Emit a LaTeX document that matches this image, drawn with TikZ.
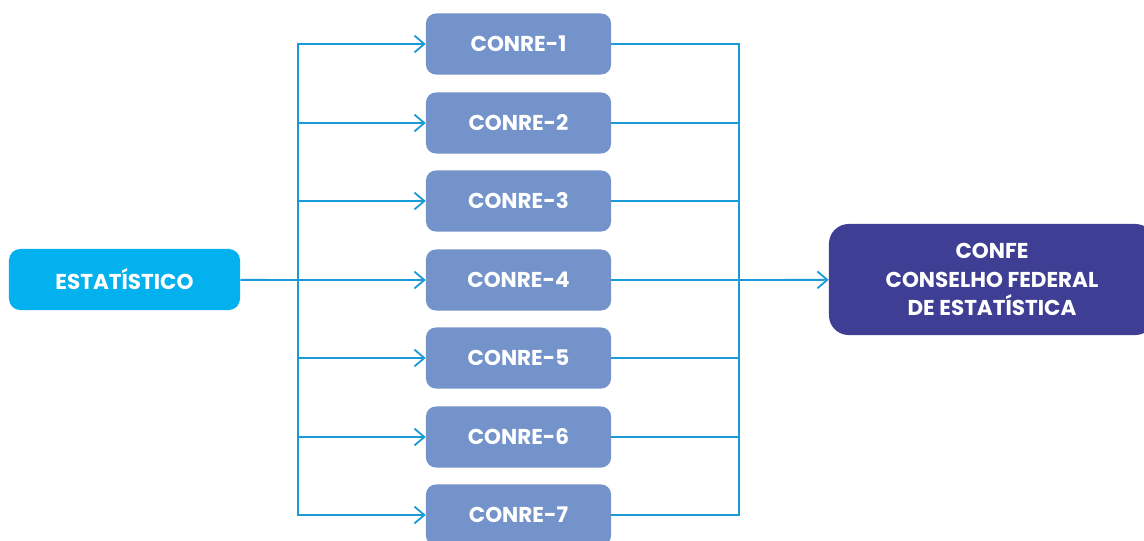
\documentclass[tikz,border=0pt]{standalone}
\usepackage{fontspec}
\setmainfont{Poppins}
\usepackage{tikz}
\usetikzlibrary{arrows.meta}

\definecolor{linkblue}{HTML}{1A9BD8}
\definecolor{estblue}{HTML}{03B1EF}
\definecolor{conreblue}{HTML}{7393CA}
\definecolor{confeblue}{HTML}{3E3F94}

\begin{document}
\begin{tikzpicture}[x=0.025cm,y=-0.025cm,
  every node/.style={text=white,font=\fontsize{15.3}{20}\selectfont\bfseries},
  estbox/.style={shape=rectangle,rounded corners=8pt,fill=estblue,minimum width=5.775cm,minimum height=1.525cm},
  conrebox/.style={shape=rectangle,rounded corners=7pt,fill=conreblue,minimum width=4.625cm,minimum height=1.525cm},
  confebox/.style={shape=rectangle,rounded corners=14pt,fill=confeblue,minimum width=8.15cm,minimum height=2.775cm,align=center},
  link/.style={draw=linkblue,line width=1.3pt},
  tip/.style={-{Straight Barb[length=7pt,width=12pt,line width=1.3pt]}}]
%[frame]
\clip (0,0) rectangle (1144,540);
\path (124.5,279.5) node (est) [estbox] {ESTATÍSTICO};
\path (518.5,44) node (conre1) [conrebox] {CONRE-1};
\path (518.5,123) node (conre2) [conrebox] {CONRE-2};
\path (518.5,201) node (conre3) [conrebox] {CONRE-3};
\path (518.5,280) node (conre4) [conrebox] {CONRE-4};
\path (518.5,358) node (conre5) [conrebox] {CONRE-5};
\path (518.5,437) node (conre6) [conrebox] {CONRE-6};
\path (518.5,515) node (conre7) [conrebox] {CONRE-7};
\path (992,279.5) node (confe) [confebox] {CONFE\\CONSELHO FEDERAL\\DE ESTATÍSTICA};
\coordinate (lbus) at (298,280);
\coordinate (rbus) at (739,280);

\draw [link] (est) -- (lbus);
\draw [link,tip] (lbus) |- (conre1);
\draw [link,tip] (lbus) |- (conre2);
\draw [link,tip] (lbus) |- (conre3);
\draw [link,tip] (lbus) |- (conre4);
\draw [link,tip] (lbus) |- (conre5);
\draw [link,tip] (lbus) |- (conre6);
\draw [link,tip] (lbus) |- (conre7);
\draw [link] (conre1) -| (rbus);
\draw [link] (conre2) -| (rbus);
\draw [link] (conre3) -| (rbus);
\draw [link] (conre4) -- (rbus);
\draw [link] (conre5) -| (rbus);
\draw [link] (conre6) -| (rbus);
\draw [link] (conre7) -| (rbus);
\draw [link,tip] (rbus) -- (confe);
\end{tikzpicture}
\end{document}
